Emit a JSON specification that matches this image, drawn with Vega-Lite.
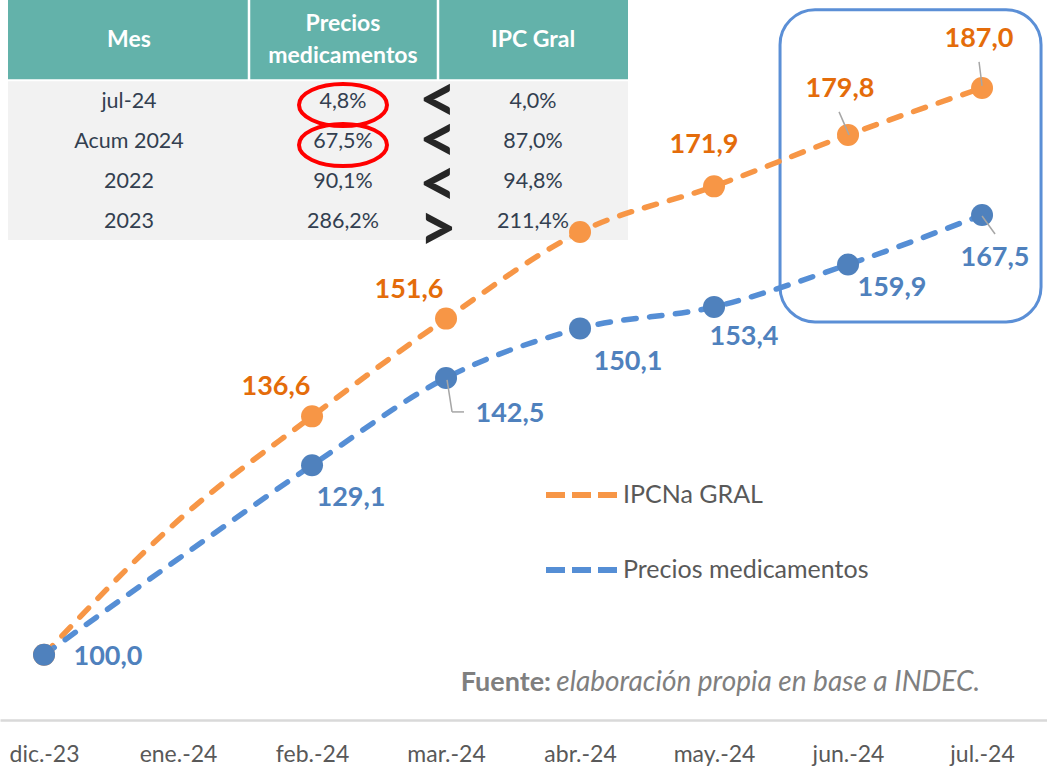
{
  "$schema": "https://vega.github.io/schema/vega-lite/v6.json",
  "width": 1047,
  "height": 720,
  "autosize": {"type": "none"},
  "padding": {"left": 0, "top": 0, "right": 0, "bottom": 48},
  "background": "white",
  "config": {
    "view": {"stroke": null},
    "font": "Lato",
    "locale": {"number": {"decimal": ",", "thousands": ".", "grouping": [3], "currency": ["$", ""]}}
  },
  "datasets": {
    "series": [
      {"serie": "IPCNa GRAL", "mes": "dic.-23", "valor": 100.0},
      {"serie": "IPCNa GRAL", "mes": "ene.-24", "valor": 120.6},
      {"serie": "IPCNa GRAL", "mes": "feb.-24", "valor": 136.6},
      {"serie": "IPCNa GRAL", "mes": "mar.-24", "valor": 151.6},
      {"serie": "IPCNa GRAL", "mes": "abr.-24", "valor": 164.9},
      {"serie": "IPCNa GRAL", "mes": "may.-24", "valor": 171.9},
      {"serie": "IPCNa GRAL", "mes": "jun.-24", "valor": 179.8},
      {"serie": "IPCNa GRAL", "mes": "jul.-24", "valor": 187.0},
      {"serie": "Precios medicamentos", "mes": "dic.-23", "valor": 100.0},
      {"serie": "Precios medicamentos", "mes": "ene.-24", "valor": 114.7},
      {"serie": "Precios medicamentos", "mes": "feb.-24", "valor": 129.1},
      {"serie": "Precios medicamentos", "mes": "mar.-24", "valor": 142.5},
      {"serie": "Precios medicamentos", "mes": "abr.-24", "valor": 150.1},
      {"serie": "Precios medicamentos", "mes": "may.-24", "valor": 153.4},
      {"serie": "Precios medicamentos", "mes": "jun.-24", "valor": 159.9},
      {"serie": "Precios medicamentos", "mes": "jul.-24", "valor": 167.5}
    ],
    "tabla": [
      {"fila": 0, "col": 0, "texto": "Mes"},
      {"fila": 0, "col": 1, "texto": "Precios\nmedicamentos"},
      {"fila": 0, "col": 2, "texto": "IPC Gral"},
      {"fila": 1, "col": 0, "texto": "jul-24"},
      {"fila": 1, "col": 1, "texto": "4,8%"},
      {"fila": 1, "col": 2, "texto": "4,0%"},
      {"fila": 2, "col": 0, "texto": "Acum 2024"},
      {"fila": 2, "col": 1, "texto": "67,5%"},
      {"fila": 2, "col": 2, "texto": "87,0%"},
      {"fila": 3, "col": 0, "texto": "2022"},
      {"fila": 3, "col": 1, "texto": "90,1%"},
      {"fila": 3, "col": 2, "texto": "94,8%"},
      {"fila": 4, "col": 0, "texto": "2023"},
      {"fila": 4, "col": 1, "texto": "286,2%"},
      {"fila": 4, "col": 2, "texto": "211,4%"}
    ],
    "signos": [
      {"fila": 1, "signo": "<"},
      {"fila": 2, "signo": "<"},
      {"fila": 3, "signo": "<"},
      {"fila": 4, "signo": ">"}
    ]
  },
  "resolve": {"scale": {"x": "independent", "y": "independent"}, "axis": {"x": "independent", "y": "independent"}},
  "layer": [
    {
      "layer": [
        {
          "data": {"values": [{}]},
          "mark": {"type": "rect", "fill": "#63B2AA"},
          "encoding": {
            "x": {"datum": -0.5, "type": "quantitative", "scale": {"domain": [-0.5, 0, 0.5, 1, 1.5, 2, 2.5], "range": [8, 129, 249, 343, 438, 533, 628], "nice": false, "zero": false}, "axis": null},
            "x2": {"datum": 2.5},
            "y": {"datum": -1.5, "type": "quantitative", "scale": {"domain": [-1.5, 16.5], "range": [0, 720], "nice": false, "zero": false}, "axis": null},
            "y2": {"datum": 0.48}
          }
        },
        {
          "data": {"values": [{}]},
          "mark": {"type": "rect", "fill": "#F2F2F2"},
          "encoding": {
            "x": {"datum": -0.5, "type": "quantitative", "axis": null},
            "x2": {"datum": 2.5},
            "y": {"datum": 0.53, "type": "quantitative", "axis": null},
            "y2": {"datum": 4.5}
          }
        },
        {
          "data": {"values": [{}]},
          "mark": {"type": "rule", "color": "white", "strokeWidth": 2.5},
          "encoding": {
            "x": {"datum": 0.5, "type": "quantitative", "axis": null},
            "y": {"datum": -1.5, "type": "quantitative", "axis": null},
            "y2": {"datum": 0.5}
          }
        },
        {
          "data": {"values": [{}]},
          "mark": {"type": "rule", "color": "white", "strokeWidth": 2.5},
          "encoding": {
            "x": {"datum": 1.5, "type": "quantitative", "axis": null},
            "y": {"datum": -1.5, "type": "quantitative", "axis": null},
            "y2": {"datum": 0.5}
          }
        },
        {
          "data": {"name": "tabla"},
          "transform": [{"filter": "datum.fila === 0 && datum.col !== 1"}],
          "mark": {"type": "text", "color": "white", "fontWeight": "bold", "fontSize": 23, "dy": -20, "baseline": "middle", "align": "center"},
          "encoding": {
            "x": {"field": "col", "type": "quantitative", "axis": null},
            "y": {"field": "fila", "type": "quantitative", "axis": null},
            "text": {"field": "texto", "type": "nominal"}
          }
        },
        {
          "data": {"name": "tabla"},
          "transform": [{"filter": "datum.fila === 0 && datum.col === 1"}],
          "mark": {"type": "text", "color": "white", "fontWeight": "bold", "fontSize": 23, "lineBreak": "\n", "lineHeight": 32, "dy": -36, "baseline": "middle", "align": "center"},
          "encoding": {
            "x": {"field": "col", "type": "quantitative", "axis": null},
            "y": {"field": "fila", "type": "quantitative", "axis": null},
            "text": {"field": "texto", "type": "nominal"}
          }
        },
        {
          "data": {"name": "tabla"},
          "transform": [{"filter": "datum.fila > 0"}],
          "mark": {"type": "text", "color": "#333F50", "fontSize": 21.5, "dy": 2, "baseline": "middle", "align": "center"},
          "encoding": {
            "x": {"field": "col", "type": "quantitative", "axis": null},
            "y": {"field": "fila", "type": "quantitative", "axis": null},
            "text": {"field": "texto", "type": "nominal"}
          }
        },
        {
          "data": {"name": "tabla"},
          "transform": [{"filter": "datum.col === 1 && datum.fila >= 1 && datum.fila <= 2"}],
          "mark": {"type": "point", "shape": "M -1 0 A 1 0.48 0 1 1 1 0 A 1 0.48 0 1 1 -1 0 Z", "size": 7744, "filled": false, "stroke": "#FF0000", "strokeWidth": 4, "yOffset": 5, "opacity": 1},
          "encoding": {
            "x": {"field": "col", "type": "quantitative", "axis": null},
            "y": {"field": "fila", "type": "quantitative", "axis": null}
          }
        },
        {
          "data": {"name": "signos"},
          "transform": [{"filter": "datum.fila <= 2"}],
          "mark": {"type": "text", "color": "#262626", "fontWeight": "bold", "fontSize": 66, "baseline": "middle", "align": "center", "dy": 2},
          "encoding": {
            "x": {"datum": 1.5, "type": "quantitative", "axis": null},
            "y": {"field": "fila", "type": "quantitative", "axis": null},
            "text": {"field": "signo", "type": "nominal"}
          }
        },
        {
          "data": {"name": "signos"},
          "transform": [{"filter": "datum.fila === 3"}],
          "mark": {"type": "text", "color": "#262626", "fontWeight": "bold", "fontSize": 66, "baseline": "middle", "align": "center", "dy": 6},
          "encoding": {
            "x": {"datum": 1.5, "type": "quantitative", "axis": null},
            "y": {"field": "fila", "type": "quantitative", "axis": null},
            "text": {"field": "signo", "type": "nominal"}
          }
        },
        {
          "data": {"name": "signos"},
          "transform": [{"filter": "datum.fila === 4"}],
          "mark": {"type": "text", "color": "#262626", "fontWeight": "bold", "fontSize": 66, "baseline": "middle", "align": "center", "dy": 11},
          "encoding": {
            "x": {"datum": 1.5, "type": "quantitative", "axis": null},
            "y": {"field": "fila", "type": "quantitative", "axis": null},
            "text": {"field": "signo", "type": "nominal"}
          }
        }
      ]
    },
    {
      "layer": [
        {
          "data": {"values": [{}]},
          "mark": {"type": "rect", "fillOpacity": 0, "fill": "white", "stroke": "#5B8FD6", "strokeWidth": 3, "cornerRadius": 35, "xOffset": -68, "x2Offset": 59},
          "encoding": {
            "x": {"datum": "jun.-24", "type": "ordinal", "scale": {"type": "point", "domain": ["dic.-23", "ene.-24", "feb.-24", "mar.-24", "abr.-24", "may.-24", "jun.-24", "jul.-24"], "padding": 0.4067, "align": 0.404},
              "axis": {"orient": "bottom", "title": null, "ticks": false, "tickSize": 0, "domainColor": "#D9D9D9", "domainWidth": 2.5, "labelFont": "Lato", "labelFontSize": 23, "labelColor": "#595959", "labelPadding": 23, "labelAngle": 0, "grid": false}},
            "x2": {"datum": "jul.-24"},
            "y": {"datum": 199, "type": "quantitative", "scale": {"domain": [90, 200.5], "nice": false, "zero": false}, "axis": null},
            "y2": {"datum": 151.1}
          }
        },
        {
          "data": {"name": "series"},
          "mark": {"type": "line", "strokeWidth": 5.5, "strokeDash": [12.5, 13.5], "strokeCap": "round", "interpolate": "monotone"},
          "encoding": {
            "x": {"field": "mes", "type": "ordinal"},
            "y": {"field": "valor", "type": "quantitative"},
            "color": {
              "field": "serie", "type": "nominal",
              "scale": {"domain": ["IPCNa GRAL", "Precios medicamentos"], "range": ["#F79646", "#558ED5"]},
              "legend": {"orient": "none", "legendX": 543, "legendY": 455, "title": null, "symbolType": "stroke", "symbolSize": 5476, "symbolStrokeWidth": 6, "symbolDash": [19, 7], "labelFont": "Lato", "labelFontSize": 25, "labelColor": "#595959", "labelLimit": 500, "rowPadding": 22, "labelOffset": 0, "padding": 0}
            }
          }
        },
        {
          "data": {"name": "series"},
          "transform": [{"filter": "datum.mes !== 'ene.-24'"}],
          "mark": {"type": "point", "filled": true, "size": 484, "opacity": 1, "strokeWidth": 0},
          "encoding": {
            "x": {"field": "mes", "type": "ordinal"},
            "y": {"field": "valor", "type": "quantitative"},
            "fill": {"field": "serie", "type": "nominal", "scale": {"domain": ["IPCNa GRAL", "Precios medicamentos"], "range": ["#F79646", "#4F81BD"]}, "legend": null}
          }
        },
        {
          "data": {"values": [{}]},
          "mark": {"type": "rule", "color": "#A6A6A6", "strokeWidth": 1.5, "xOffset": -9, "yOffset": -23, "x2Offset": 1, "y2Offset": 0},
          "encoding": {"x": {"datum": "jun.-24", "type": "ordinal"}, "x2": {"datum": "jun.-24"}, "y": {"datum": 179.8, "type": "quantitative"}, "y2": {"datum": 179.8}}
        },
        {
          "data": {"values": [{}]},
          "mark": {"type": "rule", "color": "#A6A6A6", "strokeWidth": 1.5, "xOffset": -3, "yOffset": -26, "x2Offset": 0, "y2Offset": -2},
          "encoding": {"x": {"datum": "jul.-24", "type": "ordinal"}, "x2": {"datum": "jul.-24"}, "y": {"datum": 187.0, "type": "quantitative"}, "y2": {"datum": 187.0}}
        },
        {
          "data": {"values": [{}]},
          "mark": {"type": "rule", "color": "#A6A6A6", "strokeWidth": 1.5, "xOffset": 0, "yOffset": 1, "x2Offset": 13, "y2Offset": 19},
          "encoding": {"x": {"datum": "jul.-24", "type": "ordinal"}, "x2": {"datum": "jul.-24"}, "y": {"datum": 167.5, "type": "quantitative"}, "y2": {"datum": 167.5}}
        },
        {
          "data": {"values": [{}]},
          "mark": {"type": "rule", "color": "#A6A6A6", "strokeWidth": 1.5, "xOffset": 1, "yOffset": 2, "x2Offset": 6, "y2Offset": 34},
          "encoding": {"x": {"datum": "mar.-24", "type": "ordinal"}, "x2": {"datum": "mar.-24"}, "y": {"datum": 142.5, "type": "quantitative"}, "y2": {"datum": 142.5}}
        },
        {
          "data": {"values": [{}]},
          "mark": {"type": "rule", "color": "#A6A6A6", "strokeWidth": 1.5, "xOffset": 6, "yOffset": 34, "x2Offset": 18, "y2Offset": 34},
          "encoding": {"x": {"datum": "mar.-24", "type": "ordinal"}, "x2": {"datum": "mar.-24"}, "y": {"datum": 142.5, "type": "quantitative"}, "y2": {"datum": 142.5}}
        },
        {
          "data": {"name": "series"},
          "encoding": {
            "x": {"field": "mes", "type": "ordinal"},
            "y": {"field": "valor", "type": "quantitative"},
            "text": {"field": "valor", "type": "quantitative", "format": ".1f"}
          },
          "layer": [
            {"transform": [{"filter": "datum.serie === 'IPCNa GRAL' && datum.mes === 'feb.-24'"}], "mark": {"type": "text", "color": "#E46C0A", "fontWeight": "bold", "fontSize": 27, "dx": -36, "dy": -29}},
            {"transform": [{"filter": "datum.serie === 'IPCNa GRAL' && datum.mes === 'mar.-24'"}], "mark": {"type": "text", "color": "#E46C0A", "fontWeight": "bold", "fontSize": 27, "dx": -37, "dy": -29}},
            {"transform": [{"filter": "datum.serie === 'IPCNa GRAL' && datum.mes === 'may.-24'"}], "mark": {"type": "text", "color": "#E46C0A", "fontWeight": "bold", "fontSize": 27, "dx": -10, "dy": -41}},
            {"transform": [{"filter": "datum.serie === 'IPCNa GRAL' && datum.mes === 'jun.-24'"}], "mark": {"type": "text", "color": "#E46C0A", "fontWeight": "bold", "fontSize": 27, "dx": -8, "dy": -46}},
            {"transform": [{"filter": "datum.serie === 'IPCNa GRAL' && datum.mes === 'jul.-24'"}], "mark": {"type": "text", "color": "#E46C0A", "fontWeight": "bold", "fontSize": 27, "dx": -3, "dy": -49}},
            {"transform": [{"filter": "datum.serie === 'Precios medicamentos' && datum.mes === 'dic.-23'"}], "mark": {"type": "text", "color": "#4F81BD", "fontWeight": "bold", "fontSize": 27, "dx": 64, "dy": 2}},
            {"transform": [{"filter": "datum.serie === 'Precios medicamentos' && datum.mes === 'feb.-24'"}], "mark": {"type": "text", "color": "#4F81BD", "fontWeight": "bold", "fontSize": 27, "dx": 39, "dy": 33}},
            {"transform": [{"filter": "datum.serie === 'Precios medicamentos' && datum.mes === 'mar.-24'"}], "mark": {"type": "text", "color": "#4F81BD", "fontWeight": "bold", "fontSize": 27, "dx": 64, "dy": 36}},
            {"transform": [{"filter": "datum.serie === 'Precios medicamentos' && datum.mes === 'abr.-24'"}], "mark": {"type": "text", "color": "#4F81BD", "fontWeight": "bold", "fontSize": 27, "dx": 48, "dy": 34}},
            {"transform": [{"filter": "datum.serie === 'Precios medicamentos' && datum.mes === 'may.-24'"}], "mark": {"type": "text", "color": "#4F81BD", "fontWeight": "bold", "fontSize": 27, "dx": 30, "dy": 30}},
            {"transform": [{"filter": "datum.serie === 'Precios medicamentos' && datum.mes === 'jun.-24'"}], "mark": {"type": "text", "color": "#4F81BD", "fontWeight": "bold", "fontSize": 27, "dx": 44, "dy": 23}},
            {"transform": [{"filter": "datum.serie === 'Precios medicamentos' && datum.mes === 'jul.-24'"}], "mark": {"type": "text", "color": "#4F81BD", "fontWeight": "bold", "fontSize": 27, "dx": 13, "dy": 43}}
          ]
        },
        {
          "data": {"values": [{"texto": "elaboración propia en base a INDEC."}]},
          "mark": {"type": "text", "color": "#7F7F7F", "fontStyle": "italic", "fontSize": 28, "align": "right", "baseline": "middle", "dx": -2},
          "encoding": {"x": {"datum": "jul.-24", "type": "ordinal"}, "y": {"datum": 95.7, "type": "quantitative"}, "text": {"field": "texto", "type": "nominal"}}
        },
        {
          "data": {"values": [{"texto": "Fuente:"}]},
          "mark": {"type": "text", "color": "#7F7F7F", "fontWeight": "bold", "fontSize": 27, "align": "right", "baseline": "middle", "dx": -431},
          "encoding": {"x": {"datum": "jul.-24", "type": "ordinal"}, "y": {"datum": 95.7, "type": "quantitative"}, "text": {"field": "texto", "type": "nominal"}}
        }
      ]
    }
  ]
}
